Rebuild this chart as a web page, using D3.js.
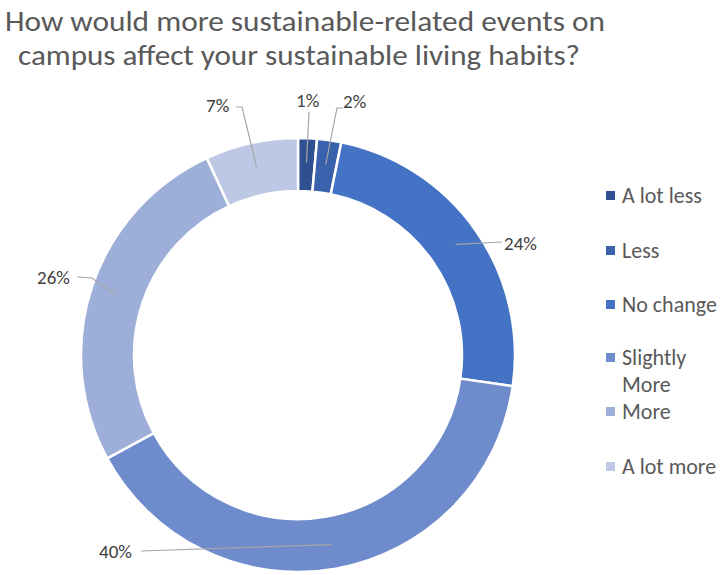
<!DOCTYPE html>
<html>
<head>
<meta charset="utf-8">
<script src="https://cdn.jsdelivr.net/npm/d3@7"></script>
<style>
  html, body { margin: 0; padding: 0; background: #ffffff; }
  svg { display: block; }
</style>
</head>
<body>
<svg id="chart" width="725" height="575"></svg>
<script>
// ---- data ----
const categories = ["A lot less", "Less", "No change", "Slightly More", "More", "A lot more"];
const values = [1.4, 1.8, 24.1, 39.8, 26.0, 6.9];
const legendLines = [["A lot less"], ["Less"], ["No change"], ["Slightly", "More"], ["More"], ["A lot more"]];
const colors = ["#2f5090", "#3a62ac", "#4472c4", "#6e8bcb", "#9dafd8", "#bdc8e5"];
const titleLines = ["How would more sustainable-related events on", "campus affect your sustainable living habits?"];

// ---- layout ----
const W = 725, H = 575;
const cx = 298, cy = 355, rOuter = 217, rInner = 164;
const font = "Carlito, Calibri, 'Open Sans', sans-serif";
// label text anchor positions (left x, baseline y) and leader elbow points
const labelLayout = [
  { x: 296, y: 107, elbow: [[309, 112]] },
  { x: 343, y: 108, elbow: [[343, 108], [337, 108]] },
  { x: 504, y: 250, elbow: [[502, 242]] },
  { x: 99, y: 558, elbow: [[141, 551]] },
  { x: 37, y: 284, elbow: [[77, 277], [92, 278]] },
  { x: 206, y: 112, elbow: [[236, 107], [242, 107]] }
];

const svg = d3.select("#chart");

// title
const title = svg.append("g");
title.append("text").attr("x", 5).attr("y", 31)
  .attr("font-family", font).attr("font-size", 29).attr("fill", "#595959")
  .attr("textLength", 600).attr("lengthAdjust", "spacingAndGlyphs")
  .text(titleLines[0]);
title.append("text").attr("x", 18).attr("y", 65)
  .attr("font-family", font).attr("font-size", 29).attr("fill", "#595959")
  .attr("textLength", 562).attr("lengthAdjust", "spacingAndGlyphs")
  .text(titleLines[1]);

// pie
const data = categories.map((c, i) => ({ cat: c, value: values[i], color: colors[i] }));
const pie = d3.pie().value(d => d.value).sort(null);
const arcs = pie(data);
const arc = d3.arc().innerRadius(rInner).outerRadius(rOuter);
const midArc = d3.arc().innerRadius((rInner + rOuter) / 2 + 2).outerRadius((rInner + rOuter) / 2 + 2);

const g = svg.append("g").attr("transform", `translate(${cx},${cy})`);
g.selectAll("path.slice").data(arcs).enter().append("path")
  .attr("class", "slice")
  .attr("d", arc)
  .attr("fill", d => d.data.color)
  .attr("stroke", "#ffffff")
  .attr("stroke-width", 2.5)
  .attr("stroke-linejoin", "miter");

// leader lines
arcs.forEach((a, i) => {
  const c = midArc.centroid(a);
  const L = labelLayout[i];
  const pts = L.elbow.map(p => [p[0], p[1]]).concat([[c[0] + cx, c[1] + cy]]);
  svg.append("path")
    .attr("d", d3.line()(pts))
    .attr("fill", "none")
    .attr("stroke", "#a6a6a6")
    .attr("stroke-width", 1.2);
});

// labels
arcs.forEach((a, i) => {
  const L = labelLayout[i];
  svg.append("text")
    .attr("x", L.x).attr("y", L.y)
    .attr("text-anchor", L.anchor || "start")
    .attr("font-family", font).attr("font-size", 19).attr("fill", "#404040")
    .text(Math.round(a.data.value) + "%");
});

// legend
const legendY = [196, 251, 305, 358, 412, 467];
const lg = svg.append("g");
categories.forEach((c, i) => {
  lg.append("rect")
    .attr("x", 606).attr("y", legendY[i] - 5)
    .attr("width", 9).attr("height", 9)
    .attr("fill", colors[i]);
  legendLines[i].forEach((line, j) => {
    lg.append("text")
      .attr("x", 622).attr("y", legendY[i] + 7 + j * 27)
      .attr("font-family", font).attr("font-size", 22).attr("fill", "#595959")
      .text(line);
  });
});
</script>
</body>
</html>
